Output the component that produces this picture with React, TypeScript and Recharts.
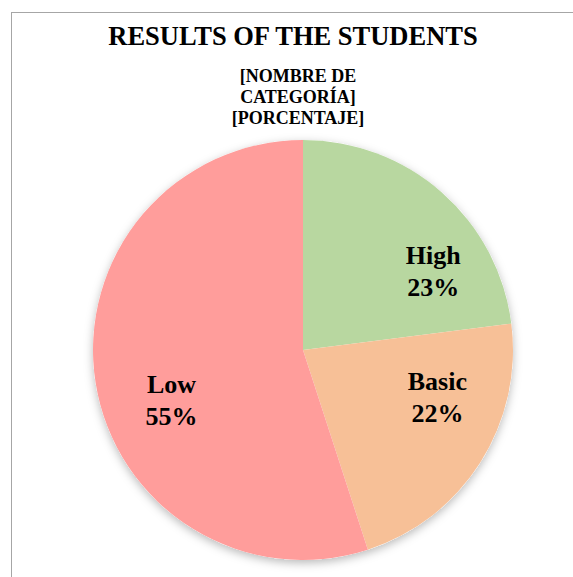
import { PieChart, Pie, Cell } from "recharts";

// chart data
const categories = ["High", "Basic", "Low", "[NOMBRE DE CATEGORÍA]"];
const shares = [23, 22, 55, 0];
const sliceColors = ["#B8D7A0", "#F7C097", "#FF9D9B", "#FFFFFF"];
const labelLines = [
  ["High", "23%"],
  ["Basic", "22%"],
  ["Low", "55%"],
  ["[NOMBRE DE", "CATEGORÍA]", "[PORCENTAJE]"],
];
const title = "RESULTS OF THE STUDENTS";

// label nudges (Excel labels were moved by hand)
const labelNudge: Record<string, [number, number]> = {
  High: [47, 15],
  Basic: [28, -21],
  Low: [-7, 30],
  "[NOMBRE DE CATEGORÍA]": [-5, -127],
};

const rows = categories.map((name, i) => ({
  name,
  value: shares[i],
  lines: labelLines[i],
}));

const W = 573;
const H = 577;
const FONT = "'Liberation Serif', 'Times New Roman', serif";
const RAD = Math.PI / 180;

const renderLabel = (p: any) => {
  const { cx, cy, midAngle, outerRadius, payload, name } = p;
  const r = outerRadius * 0.6;
  const [nx, ny] = labelNudge[name] ?? [0, 0];
  const x = cx + r * Math.cos(-midAngle * RAD) + nx;
  const y = cy + r * Math.sin(-midAngle * RAD) + ny;
  const lines: string[] = payload.lines;
  const small = lines.length > 2;
  const fs = small ? 18 : 26;
  const lh = small ? 21 : 32;
  const y0 = y - ((lines.length - 1) * lh) / 2 + fs * 0.35;
  return (
    <text
      key={name}
      x={x}
      y={y0}
      textAnchor="middle"
      fontFamily={FONT}
      fontWeight="bold"
      fontSize={fs}
      fill="#000"
      style={{ fontFamily: FONT }}
    >
      {lines.map((t, i) => (
        <tspan key={i} x={x} y={y0 + i * lh}>
          {t}
        </tspan>
      ))}
    </text>
  );
};

export default function App() {
  return (
    <div
      style={{
        position: "absolute",
        left: 0,
        top: 0,
        width: W,
        height: H,
        overflow: "hidden",
        background: "#fff",
      }}
    >
      {/* chart area frame */}
      <div
        style={{
          position: "absolute",
          left: 11,
          top: 12,
          width: 700,
          height: 700,
          borderLeft: "1px solid #A6A6A6",
          borderTop: "1px solid #A6A6A6",
        }}
      />
      <div
        style={{
          position: "absolute",
          left: 0,
          top: 21,
          width: 586,
          textAlign: "center",
          fontFamily: FONT,
          fontWeight: "bold",
          fontSize: 26.5,
          lineHeight: "30px",
          color: "#000",
        }}
      >
        {title}
      </div>
      <div style={{ position: "absolute", left: 0, top: 0 }}>
        <PieChart width={W} height={H} margin={{ top: 0, right: 0, bottom: 0, left: 0 }}>
          <defs>
            <filter id="pieShadow" x="-20%" y="-20%" width="140%" height="140%">
              <feDropShadow dx="0" dy="3" stdDeviation="5" floodColor="#000" floodOpacity="0.28" />
            </filter>
          </defs>
          {/* shadow disc under the pie */}
          <Pie
            data={[{ name: "bg", value: 1 }]}
            dataKey="value"
            cx={303}
            cy={350}
            outerRadius={210}
            stroke="none"
            isAnimationActive={false}
          >
            <Cell fill="#fff" filter="url(#pieShadow)" />
          </Pie>
          <Pie
            data={rows}
            dataKey="value"
            nameKey="name"
            cx={303}
            cy={350}
            outerRadius={210}
            startAngle={90}
            endAngle={-270}
            stroke="none"
            labelLine={false}
            label={renderLabel}
            isAnimationActive={false}
          >
            {rows.map((r, i) => (
              <Cell key={r.name} fill={sliceColors[i]} />
            ))}
          </Pie>
        </PieChart>
      </div>
    </div>
  );
}
